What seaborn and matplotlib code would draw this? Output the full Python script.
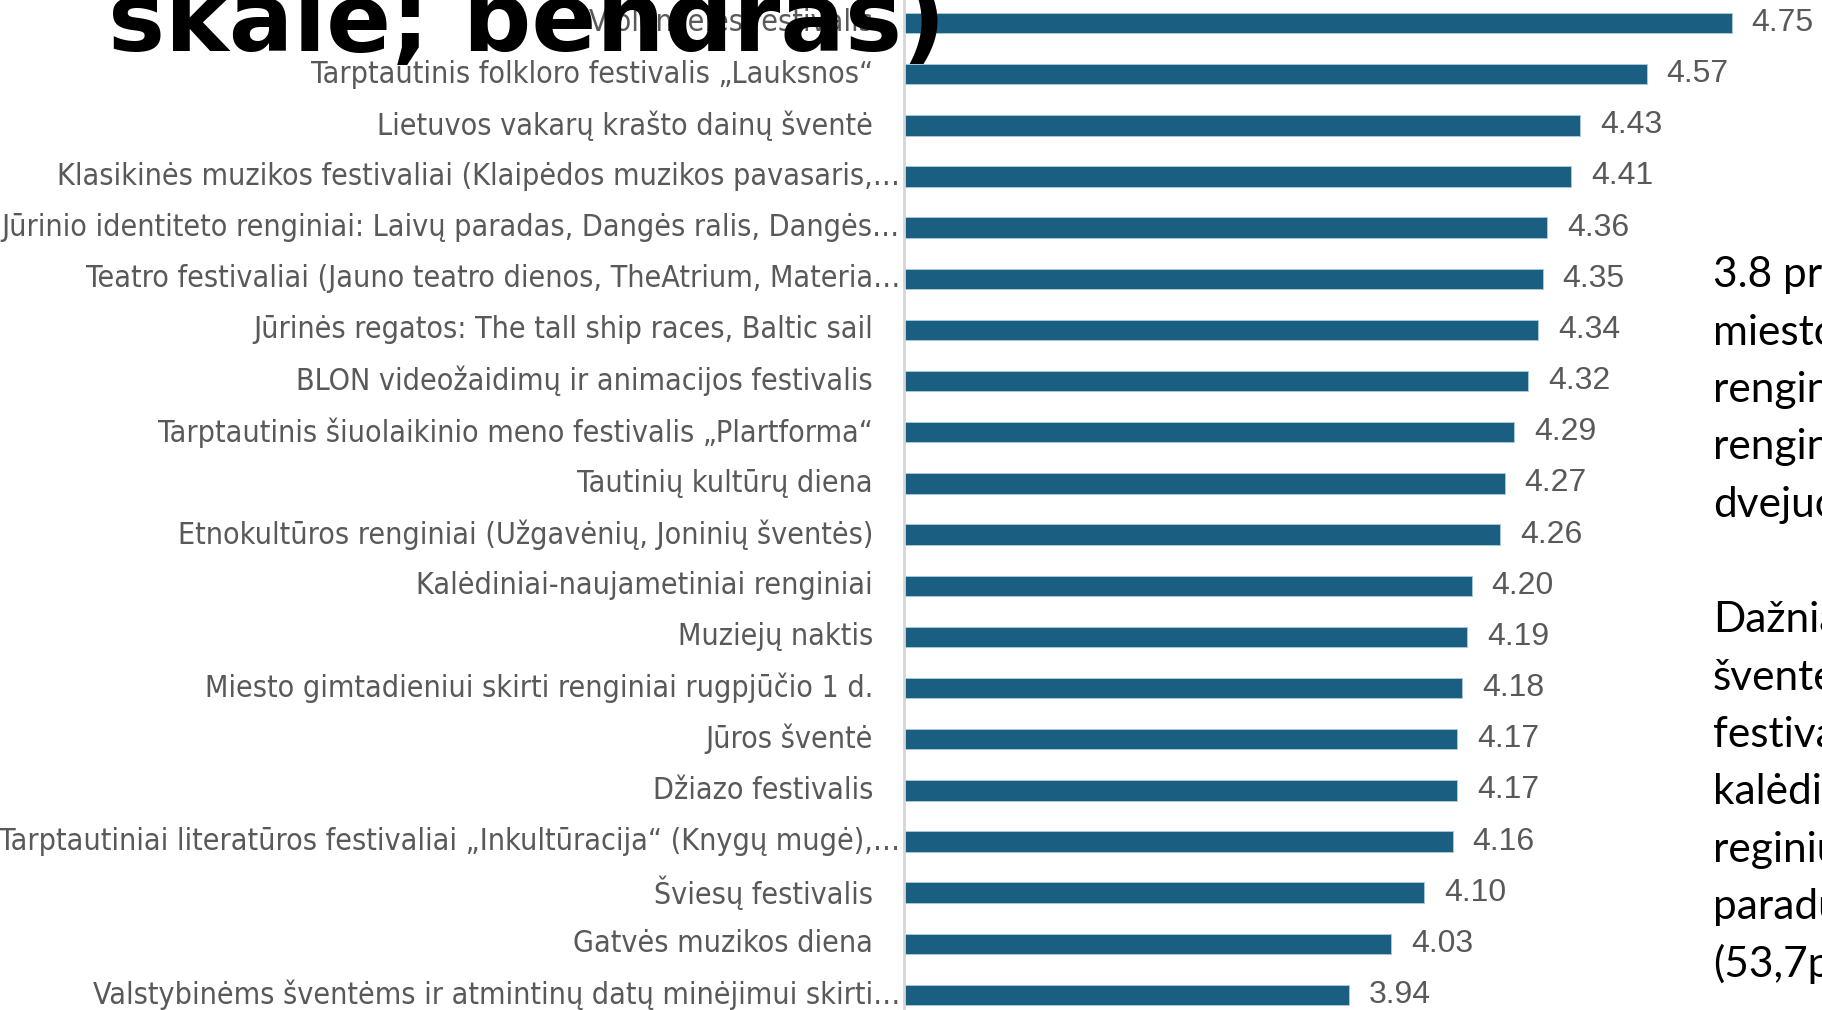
import numpy as np
import pandas as pd
import seaborn as sns
import matplotlib.pyplot as plt
from matplotlib import font_manager

categories = [
    "Violončelės festivalis",
    "Tarptautinis folkloro festivalis „Lauksnos“",
    "Lietuvos vakarų krašto dainų šventė",
    "Klasikinės muzikos festivaliai (Klaipėdos muzikos pavasaris,…",
    "Jūrinio identiteto renginiai: Laivų paradas, Dangės ralis, Dangės…",
    "Teatro festivaliai (Jauno teatro dienos, TheAtrium, Materia…",
    "Jūrinės regatos: The tall ship races, Baltic sail",
    "BLON videožaidimų ir animacijos festivalis",
    "Tarptautinis šiuolaikinio meno festivalis „Plartforma“",
    "Tautinių kultūrų diena",
    "Etnokultūros renginiai (Užgavėnių, Joninių šventės)",
    "Kalėdiniai-naujametiniai renginiai",
    "Muziejų naktis",
    "Miesto gimtadieniui skirti renginiai rugpjūčio 1 d.",
    "Jūros šventė",
    "Džiazo festivalis",
    "Tarptautiniai literatūros festivaliai „Inkultūracija“ (Knygų mugė),…",
    "Šviesų festivalis",
    "Gatvės muzikos diena",
    "Valstybinėms šventėms ir atmintinų datų minėjimui skirti…",
]
scores = [4.75, 4.57, 4.43, 4.41, 4.36, 4.35, 4.34, 4.32, 4.29, 4.27,
          4.26, 4.20, 4.19, 4.18, 4.17, 4.17, 4.16, 4.10, 4.03, 3.94]

title_tail = "skalė; bendras)"
side_lines = [
    "3.8 pristatyti",
    "miesto",
    "renginiai",
    "renginių",
    "dvejuose",
    "",
    "Dažniausiai",
    "šventes",
    "festivalius",
    "kalėdinius",
    "reginius",
    "paradus",
    "(53,7proc.)",
]

df = pd.DataFrame({"renginys": categories, "vertinimas": scores})

sns.set_theme(style="white")
plt.rcParams['font.family'] = ['DejaVu Sans']

available = {f.name for f in font_manager.fontManager.ttflist}
if 'Liberation Sans Narrow' in available:
    label_font = dict(family='Liberation Sans Narrow')
else:
    label_font = dict(family='DejaVu Sans', stretch='condensed')
value_family = 'Liberation Sans' if 'Liberation Sans' in available else 'DejaVu Sans'
side_family = 'Lato' if 'Lato' in available else 'DejaVu Sans'

W, H = 1822, 1010
fig = plt.figure(figsize=(W / 100, H / 100), dpi=100)

# axes placed in pixel terms: x=3 at 904px, 1 unit ~ 473px, rows ~51px apart
ax_left, ax_right = 904, 904 + 2 * 473
row = 51.2
ax_top = 23 - row / 2
ax_bottom = 995 + row / 2
ax = fig.add_axes([ax_left / W, (H - ax_bottom) / H,
                   (ax_right - ax_left) / W, (ax_bottom - ax_top) / H])

sns.barplot(data=df, x="vertinimas", y="renginys", orient="h",
            color="#1a5f82", width=0.4, edgecolor="#a8c8da", linewidth=0.7,
            saturation=1, ax=ax)

ax.set_xlim(3, 5)
ax.set_xlabel("")
ax.set_ylabel("")
ax.set_xticks([])
ax.set_yticklabels([])
ax.tick_params(left=False, bottom=False)
for side in ["top", "right", "bottom"]:
    ax.spines[side].set_visible(False)
ax.spines["left"].set_color("#d6d6d6")
ax.spines["left"].set_linewidth(2)

# value labels
for i, v in enumerate(scores):
    ax.annotate(f"{v:.2f}", xy=(v, i), xytext=(20, 0), textcoords="offset pixels",
                ha="left", va="center", fontsize=23, color="#595959",
                family=value_family)

# category labels, truncated ones sit closer to the axis
cat_texts = []
for i, name in enumerate(categories):
    pad = 4 if name.endswith("…") else 31
    t = ax.annotate(name, xy=(0, i), xycoords=("axes fraction", "data"),
                    xytext=(-pad, 0), textcoords="offset pixels",
                    ha="right", va="center", fontsize=18, color="#595959",
                    **label_font)
    cat_texts.append(t)

# fit label size to the widest one (reference spans ~898px)
fig.canvas.draw()
renderer = fig.canvas.get_renderer()
widest = max(t.get_window_extent(renderer).width for t in cat_texts)
new_size = 18 * 897 / widest
for t in cat_texts:
    t.set_fontsize(new_size)

# last line of the slide title, cut at the top edge
fig.text(108 / W, 1 - 51 / H, title_tail, ha="left", va="baseline",
         fontsize=69, fontweight="bold", color="black", family="DejaVu Sans")

# side commentary, clipped on the right
for k, line in enumerate(side_lines):
    if not line:
        continue
    y = 287 + k * 57.5
    fig.text(1713 / W, 1 - y / H, line, ha="left", va="baseline",
             fontsize=30.5, color="black", family=side_family)

fig.savefig("out.png", dpi=100)
